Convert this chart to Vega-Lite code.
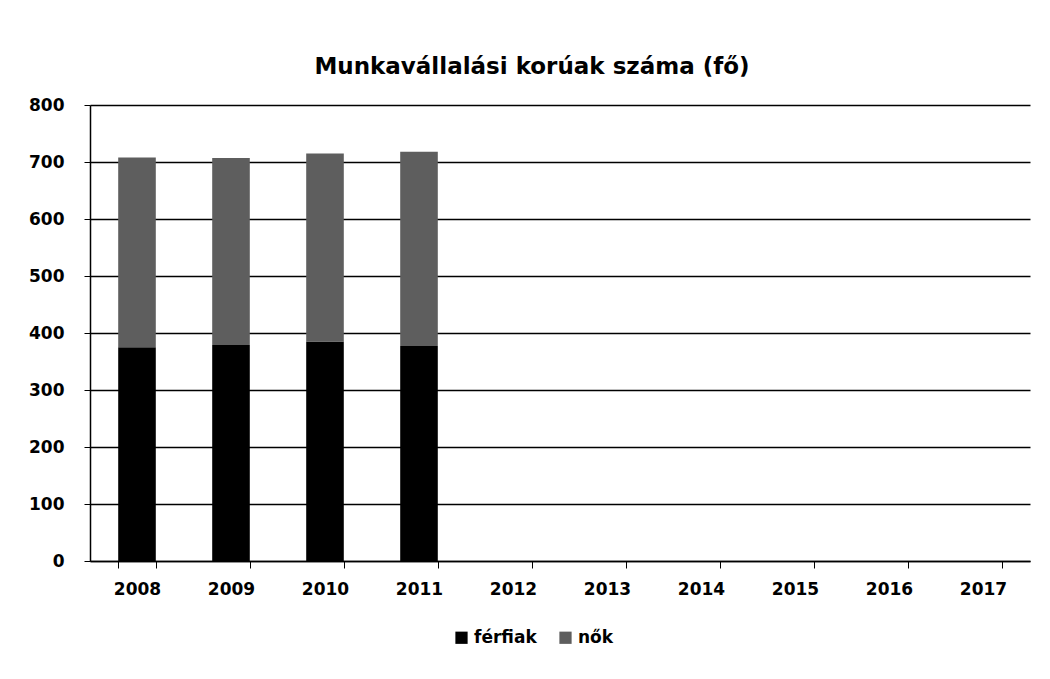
{
  "$schema": "https://vega.github.io/schema/vega-lite/v6.json",
  "autosize": {"type": "none"},
  "width": 940,
  "height": 456,
  "padding": {"left": 90, "top": 105, "right": 20, "bottom": 118},
  "background": "white",
  "title": {
    "text": "Munkavállalási korúak száma (fő)",
    "font": "DejaVu Sans",
    "fontWeight": "bold",
    "fontSize": 23,
    "color": "black",
    "anchor": "middle",
    "dx": -28,
    "offset": 17
  },
  "data": {
    "values": [
      {"ev": "2008", "nem": "férfiak", "fo": 375},
      {"ev": "2008", "nem": "nők", "fo": 333},
      {"ev": "2009", "nem": "férfiak", "fo": 379},
      {"ev": "2009", "nem": "nők", "fo": 328},
      {"ev": "2010", "nem": "férfiak", "fo": 385},
      {"ev": "2010", "nem": "nők", "fo": 330},
      {"ev": "2011", "nem": "férfiak", "fo": 377},
      {"ev": "2011", "nem": "nők", "fo": 341}
    ]
  },
  "mark": {"type": "bar"},
  "encoding": {
    "x": {
      "field": "ev",
      "type": "nominal",
      "scale": {"domain": ["2008","2009","2010","2011","2012","2013","2014","2015","2016","2017"], "paddingInner": 0.6, "paddingOuter": 0.3},
      "axis": {
        "title": null,
        "labelAngle": 0,
        "labelFont": "DejaVu Sans",
        "labelFontWeight": "bold",
        "labelFontSize": 17,
        "labelColor": "black",
        "labelPadding": 13,
        "tickBand": "extent",
        "tickSize": 7,
        "tickColor": "black",
        "domainColor": "black",
        "domainWidth": 1.5
      }
    },
    "y": {
      "field": "fo",
      "type": "quantitative",
      "aggregate": "sum",
      "stack": "zero",
      "scale": {"domain": [0, 800], "nice": false},
      "axis": {
        "title": null,
        "values": [0,100,200,300,400,500,600,700,800],
        "labelFont": "DejaVu Sans",
        "labelFontWeight": "bold",
        "labelFontSize": 17,
        "labelColor": "black",
        "labelPadding": 20,
        "tickSize": 6,
        "tickColor": "black",
        "domainColor": "black",
        "domainWidth": 1.5,
        "grid": true,
        "gridColor": "black",
        "gridWidth": 1.5,
        "gridOpacity": 1
      }
    },
    "color": {
      "field": "nem",
      "type": "nominal",
      "scale": {"domain": ["férfiak", "nők"], "range": ["#000000", "#5e5e5e"]},
      "legend": {
        "title": null,
        "orient": "none",
        "direction": "horizontal",
        "legendX": 363,
        "legendY": 524,
        "symbolType": "square",
        "symbolSize": 150,
        "symbolOpacity": 1,
        "labelFont": "DejaVu Sans",
        "labelFontWeight": "bold",
        "labelFontSize": 17,
        "labelColor": "black",
        "columnPadding": 20,
        "labelOffset": 4
      }
    },
    "order": {"field": "nem", "type": "nominal", "sort": "ascending"}
  },
  "config": {
    "view": {"stroke": null}
  }
}
